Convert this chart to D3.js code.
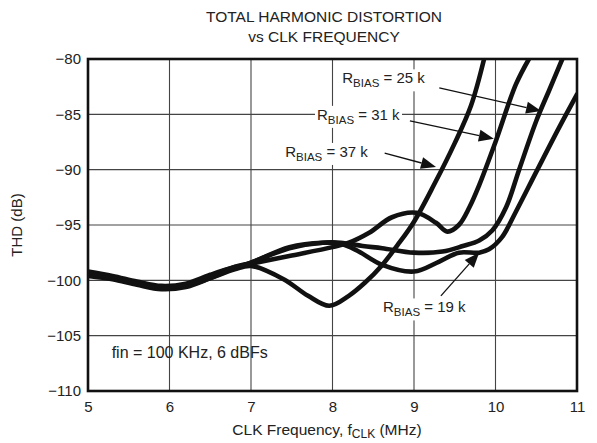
<!DOCTYPE html>
<html>
<head>
<meta charset="utf-8">
<script src="https://cdn.jsdelivr.net/npm/d3@7"></script>
<style>
  html, body { margin: 0; padding: 0; background: #fff; }
  svg { display: block; font-family: "Liberation Sans", Arial, Helvetica, sans-serif; }
</style>
</head>
<body>
<svg id="chart" width="597" height="443"></svg>
<script>
// ---- data ----
const titleLines = ["TOTAL HARMONIC DISTORTION", "vs CLK FREQUENCY"];
const xTicks = [5, 6, 7, 8, 9, 10, 11];
const yTicks = [-80, -85, -90, -95, -100, -105, -110];

const freq37k = [5.0, 5.3, 5.6, 5.9, 6.2, 6.5, 6.8, 7.0, 7.4, 7.7, 7.96, 8.2, 8.4, 8.6, 8.8, 9.0, 9.25, 9.5, 9.7, 9.86];
const thd37k  = [-99.5, -99.8, -100.3, -100.7, -100.5, -99.8, -99.0, -98.7, -99.9, -101.4, -102.3, -101.4, -100.2, -98.7, -96.8, -94.7, -91.3, -87.6, -84.2, -80];

const freq31k = [5.0, 5.3, 5.6, 5.9, 6.2, 6.5, 6.8, 7.0, 7.47, 8.0, 8.2, 8.45, 8.73, 9.03, 9.27, 9.41, 9.55, 9.68, 9.8, 10.0, 10.25, 10.41];
const thd31k  = [-99.2, -99.6, -100.1, -100.5, -100.3, -99.5, -98.8, -98.5, -97.8, -97.0, -96.6, -95.7, -94.3, -93.9, -94.8, -95.6, -95.0, -93.4, -91.4, -87.5, -82.3, -80];

const freq25k = [5.0, 5.3, 5.6, 5.9, 6.2, 6.5, 6.8, 7.0, 7.47, 7.88, 8.1, 8.37, 8.61, 9.0, 9.35, 9.6, 9.8, 9.96, 10.13, 10.29, 10.5, 10.66, 10.82];
const thd25k  = [-99.6, -99.9, -100.4, -100.8, -100.6, -99.8, -98.9, -98.4, -97.1, -96.6, -96.6, -96.9, -97.1, -97.5, -97.4, -96.9, -96.4, -95.5, -93.4, -90.0, -85.6, -82.8, -80];

const freq19k = [5.0, 5.3, 5.6, 5.9, 6.2, 6.5, 6.8, 7.0, 7.47, 7.88, 8.1, 8.3, 8.61, 9.0, 9.31, 9.55, 9.8, 9.92, 10.08, 10.25, 10.5, 10.78, 11.0];
const thd19k  = [-99.3, -99.8, -100.3, -100.6, -100.4, -99.6, -98.8, -98.4, -97.0, -96.6, -96.7, -97.3, -98.6, -99.2, -98.3, -97.5, -97.5, -97.2, -96.1, -93.8, -90.2, -86.2, -83.2];

const seriesNames = ["37 k", "31 k", "25 k", "19 k"];
const seriesFreq = [freq37k, freq31k, freq25k, freq19k];
const seriesThd = [thd37k, thd31k, thd25k, thd19k];

// annotation label positions: [freq, thd] of label anchor, arrow tail, arrow tip
const labelAt   = [[7.42, -88.85], [7.81, -85.5], [8.12, -82.2], [8.62, -102.9]];
const arrowFrom = [[8.64, -88.5], [8.95, -85.6], [9.31, -82.6], [9.33, -101.4]];
const arrowTo   = [[9.27, -89.75], [9.98, -87.2], [10.56, -84.7], [9.8, -97.5]];
const noteText = "fin = 100 KHz, 6 dBFs";
const notePos = [5.29, -107.0];

// ---- layout ----
const svg = d3.select("#chart");
const L = 88, R = 577, T = 59, B = 391;
const x = d3.scaleLinear().domain([5, 11]).range([L, R]);
const y = d3.scaleLinear().domain([-110, -80]).range([B, T]);

// title
svg.append("g").selectAll("text").data(titleLines).join("text")
  .attr("x", 324).attr("y", (d, i) => 22 + i * 20)
  .attr("text-anchor", "middle").attr("font-size", 15.5).attr("fill", "#222")
  .text(d => d);

// grid
const grid = svg.append("g").attr("stroke", "#444").attr("stroke-width", 1.1);
grid.selectAll("line.v").data(xTicks.slice(1, -1)).join("line")
  .attr("x1", d => x(d)).attr("x2", d => x(d)).attr("y1", T).attr("y2", B);
grid.selectAll("line.h").data(yTicks.slice(1, -1)).join("line")
  .attr("y1", d => y(d)).attr("y2", d => y(d)).attr("x1", L).attr("x2", R);

// axes (labels via d3 axes)
const xAxis = svg.append("g").attr("transform", `translate(0,${B})`)
  .call(d3.axisBottom(x).tickValues(xTicks).tickSize(0).tickPadding(10).tickFormat(d3.format("d")));
const yAxis = svg.append("g").attr("transform", `translate(${L},0)`)
  .call(d3.axisLeft(y).tickValues(yTicks).tickSize(0).tickPadding(7).tickFormat(d => "\u2212" + Math.abs(d)));
[xAxis, yAxis].forEach(a => {
  a.select(".domain").remove();
  a.selectAll("text").attr("font-size", 15).attr("fill", "#222")
    .attr("font-family", '"Liberation Sans", Arial, sans-serif');
});

// axis titles
const xt = svg.append("text").attr("x", 327).attr("y", 435).attr("text-anchor", "middle")
  .attr("font-size", 15.5).attr("fill", "#222");
xt.append("tspan").text("CLK Frequency, f");
xt.append("tspan").attr("font-size", 12).attr("dy", 3).text("CLK");
xt.append("tspan").attr("dy", -3).text(" (MHz)");

svg.append("text").attr("transform", `translate(22,${(T + B) / 2}) rotate(-90)`)
  .attr("text-anchor", "middle").attr("font-size", 15).attr("fill", "#222").text("THD (dB)");

// curves
const clip = svg.append("clipPath").attr("id", "plotclip");
clip.append("rect").attr("x", L).attr("y", T - 1).attr("width", R - L).attr("height", B - T + 1);

const line = d3.line().x(d => x(d[0])).y(d => y(d[1])).curve(d3.curveCatmullRom.alpha(0.5));
svg.append("g").attr("clip-path", "url(#plotclip)")
  .selectAll("path").data(seriesFreq.map((f, i) => f.map((v, j) => [v, seriesThd[i][j]])))
  .join("path")
  .attr("d", line).attr("fill", "none").attr("stroke", "#111")
  .attr("stroke-width", 4.6).attr("stroke-linejoin", "round").attr("stroke-linecap", "round");

// frame
svg.append("rect").attr("x", L).attr("y", T).attr("width", R - L).attr("height", B - T)
  .attr("fill", "none").attr("stroke", "#111").attr("stroke-width", 2.6);

// annotations
const ann = svg.append("g");
seriesNames.forEach((name, i) => {
  const g = ann.append("g");
  const t = g.append("text").attr("x", x(labelAt[i][0])).attr("y", y(labelAt[i][1]))
    .attr("font-size", 15).attr("fill", "#222");
  t.append("tspan").text("R");
  t.append("tspan").attr("font-size", 11.5).attr("dy", 4).text("BIAS");
  t.append("tspan").attr("dy", -4).text(" = " + name);
  const bb = t.node().getBBox();
  g.insert("rect", "text").attr("x", bb.x - 2).attr("y", bb.y).attr("width", bb.width + 4)
    .attr("height", bb.height + 2).attr("fill", "#fff");

  const x0 = x(arrowFrom[i][0]), y0 = y(arrowFrom[i][1]);
  const x1 = x(arrowTo[i][0]), y1 = y(arrowTo[i][1]);
  const ang = Math.atan2(y1 - y0, x1 - x0);
  const hl = 15, hw = 6;
  const bx = x1 - hl * Math.cos(ang), by = y1 - hl * Math.sin(ang);
  g.append("line").attr("x1", x0).attr("y1", y0).attr("x2", bx).attr("y2", by)
    .attr("stroke", "#111").attr("stroke-width", 1.3);
  g.append("path").attr("d", d3.line()([
    [x1, y1],
    [bx + hw * Math.sin(ang), by - hw * Math.cos(ang)],
    [bx - hw * Math.sin(ang), by + hw * Math.cos(ang)]
  ]) + "Z").attr("fill", "#111");
});

svg.append("text").attr("x", x(notePos[0])).attr("y", y(notePos[1]))
  .attr("font-size", 16).attr("fill", "#222").text(noteText);
</script>
</body>
</html>
